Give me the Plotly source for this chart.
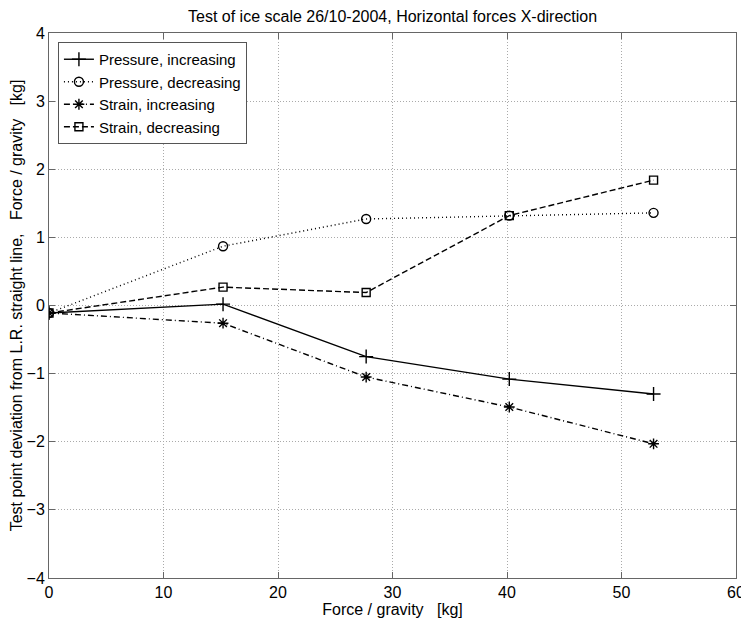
import plotly.graph_objects as go

x_vals = [0, 15.2, 27.7, 40.2, 52.8]
pressure_inc = [-0.11, 0.02, -0.75, -1.08, -1.30]
pressure_dec = [-0.11, 0.87, 1.27, 1.32, 1.36]
strain_inc = [-0.11, -0.26, -1.05, -1.49, -2.03]
strain_dec = [-0.11, 0.27, 0.19, 1.32, 1.84]

series = [
    ("Pressure, increasing", pressure_inc, "solid", "cross-thin-open", 10),
    ("Pressure, decreasing", pressure_dec, "1px,3px", "circle-open", 9),
    ("Strain, increasing", strain_inc, "6px,3px,1px,3px", "asterisk-open", 9),
    ("Strain, decreasing", strain_dec, "6px,3px", "square-open", 8),
]

fig = go.Figure()
for name, ys, dash, sym, size in series:
    fig.add_trace(go.Scatter(
        x=x_vals, y=ys, name=name, mode="lines+markers",
        line=dict(color="black", width=1.4, dash=dash),
        marker=dict(symbol=sym, size=size, color="black", line=dict(color="black", width=1.4)),
    ))

font = "Liberation Sans, Arial, sans-serif"
axis_common = dict(
    showline=True, linecolor="#666", linewidth=1, mirror="ticks",
    ticks="inside", ticklen=6, tickcolor="#666",
    showgrid=True, gridcolor="#aaa", griddash="1px,2px", gridwidth=1,
    zeroline=False, tickfont=dict(size=16, color="black", family=font),
    automargin=False,
)

sp = "\u00a0\u00a0\u00a0"
fig.update_layout(
    width=741, height=620,
    paper_bgcolor="white", plot_bgcolor="white",
    margin=dict(l=41, r=13, t=25, b=50),
    font=dict(family=font, color="black", size=16),
    title=dict(text="Test of ice scale 26/10-2004, Horizontal forces X-direction",
               x=0.519, xanchor="center", y=0.986, yanchor="middle",
               font=dict(size=16, family=font, color="black")),
    xaxis=dict(range=[0, 60], dtick=10,
               title=dict(text="Force / gravity" + sp + "[kg]", standoff=2, font=dict(size=16)),
               **axis_common),
    yaxis=dict(range=[-4, 4], dtick=1,
               title=dict(text="\u00a0\u00a0\u00a0\u00a0Test point deviation from L.R. straight line," + sp + "Force / gravity" + sp + "[kg]",
                          standoff=2, font=dict(size=16)),
               **axis_common),
    legend=dict(x=0.013, y=0.9835, xanchor="left", yanchor="top",
                bgcolor="white", bordercolor="#555", borderwidth=1,
                font=dict(size=15, family=font), tracegroupgap=0,
                itemwidth=30),
    showlegend=True,
)

fig.write_html("out.html")
